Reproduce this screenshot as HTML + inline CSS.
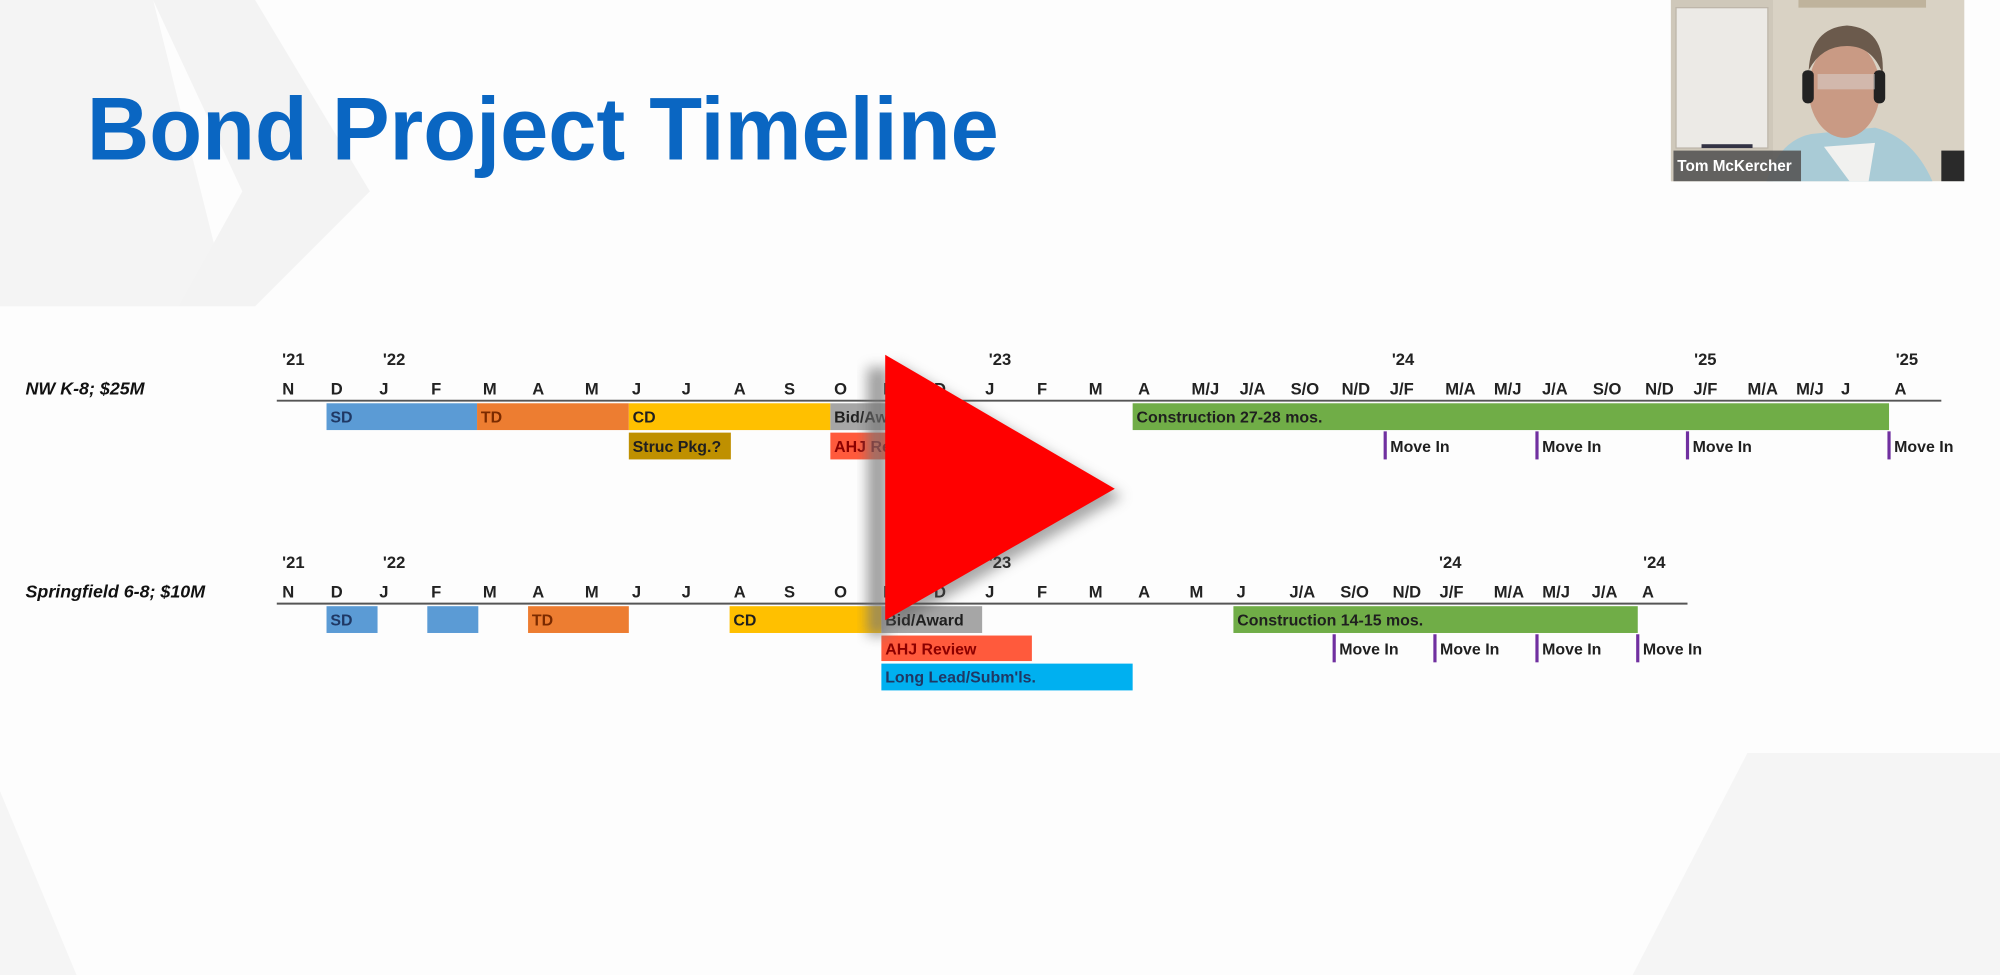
<!DOCTYPE html>
<html><head><meta charset="utf-8"><style>
html,body{margin:0;padding:0;background:#fff;}
svg{display:block;}
.m{font-family:"Liberation Sans",sans-serif;font-weight:bold;font-size:13px;fill:#222;text-anchor:middle;}
.b{font-family:"Liberation Sans",sans-serif;font-weight:bold;font-size:12.5px;fill:#1f1f1f;}
.r{font-family:"Liberation Sans",sans-serif;font-weight:bold;font-style:italic;font-size:14px;fill:#111;}
</style></head><body>
<svg width="2000" height="975" viewBox="0 0 1568 764" preserveAspectRatio="none" xmlns="http://www.w3.org/2000/svg">
<defs><filter id="bl" x="-50%" y="-50%" width="200%" height="200%"><feGaussianBlur stdDeviation="5"/></filter></defs>
<rect width="1568" height="764" fill="#fdfdfd"/>
<!-- faint background shapes -->
<polygon points="0,0 120,0 180,240 0,240" fill="#f4f4f4"/>
<polygon points="120,0 200,0 290,150 200,240 140,240 190,150" fill="#f3f3f3"/>
<polygon points="1370,590 1568,590 1568,764 1280,764" fill="#f5f5f5"/>
<polygon points="0,620 60,764 0,764" fill="#f5f5f5"/>
<!-- title -->
<text x="68" y="125" font-family="Liberation Sans, sans-serif" font-weight="bold" font-size="70" fill="#0a66c2" textLength="715" lengthAdjust="spacingAndGlyphs">Bond Project Timeline</text>

<!-- Row 1 -->
<text class="r" x="20" y="309">NW K-8; $25M</text>
<g class="m">
<text x="230" y="286">'21</text><text x="309" y="286">'22</text><text x="784" y="286">'23</text><text x="1100" y="286">'24</text><text x="1337" y="286">'25</text><text x="1495" y="286">'25</text>
<text x="226" y="309">N</text><text x="264" y="309">D</text><text x="301" y="309">J</text><text x="342" y="309">F</text><text x="384" y="309">M</text><text x="422" y="309">A</text><text x="464" y="309">M</text><text x="499" y="309">J</text><text x="538" y="309">J</text><text x="580" y="309">A</text><text x="619" y="309">S</text><text x="659" y="309">O</text><text x="697" y="309">N</text><text x="737" y="309">D</text><text x="776" y="309">J</text><text x="817" y="309">F</text><text x="859" y="309">M</text><text x="897" y="309">A</text><text x="945" y="309">M/J</text><text x="982" y="309">J/A</text><text x="1023" y="309">S/O</text><text x="1063" y="309">N/D</text><text x="1099" y="309">J/F</text><text x="1145" y="309">M/A</text><text x="1182" y="309">M/J</text><text x="1219" y="309">J/A</text><text x="1260" y="309">S/O</text><text x="1301" y="309">N/D</text><text x="1337" y="309">J/F</text><text x="1382" y="309">M/A</text><text x="1419" y="309">M/J</text><text x="1447" y="309">J</text><text x="1490" y="309">A</text>
</g>
<line x1="217" y1="314" x2="1522" y2="314" stroke="#555" stroke-width="1.5"/>
<rect x="256" y="316" width="118" height="21" fill="#5b9bd5"/>
<rect x="374" y="316" width="119" height="21" fill="#ed7d31"/>
<rect x="493" y="316" width="158" height="21" fill="#ffc000"/>
<rect x="651" y="316" width="79" height="21" fill="#a6a6a6"/>
<rect x="888" y="316" width="593" height="21" fill="#70ad47"/>
<rect x="493" y="339" width="80" height="21" fill="#bf9000"/>
<rect x="651" y="339" width="79" height="21" fill="#ff5a3c"/>
<g class="b">
<text x="259" y="331" fill="#1f3864">SD</text><text x="377" y="331" fill="#7a2a00">TD</text><text x="496" y="331">CD</text><text x="654" y="331">Bid/Award</text><text x="891" y="331">Construction 27-28 mos.</text>
<text x="496" y="354">Struc Pkg.?</text><text x="654" y="354" fill="#8b0000">AHJ Review</text>
<text x="1090" y="354">Move In</text><text x="1209" y="354">Move In</text><text x="1327" y="354">Move In</text><text x="1485" y="354">Move In</text>
</g>
<g stroke="#7030a0" stroke-width="2.5">
<line x1="1086" y1="338" x2="1086" y2="360"/><line x1="1205" y1="338" x2="1205" y2="360"/><line x1="1323" y1="338" x2="1323" y2="360"/><line x1="1481" y1="338" x2="1481" y2="360"/>
</g>

<!-- Row 2 -->
<text class="r" x="20" y="468">Springfield 6-8; $10M</text>
<g class="m">
<text x="230" y="445">'21</text><text x="309" y="445">'22</text><text x="784" y="445">'23</text><text x="1137" y="445">'24</text><text x="1297" y="445">'24</text>
<text x="226" y="468">N</text><text x="264" y="468">D</text><text x="301" y="468">J</text><text x="342" y="468">F</text><text x="384" y="468">M</text><text x="422" y="468">A</text><text x="464" y="468">M</text><text x="499" y="468">J</text><text x="538" y="468">J</text><text x="580" y="468">A</text><text x="619" y="468">S</text><text x="659" y="468">O</text><text x="697" y="468">N</text><text x="737" y="468">D</text><text x="776" y="468">J</text><text x="817" y="468">F</text><text x="859" y="468">M</text><text x="897" y="468">A</text><text x="938" y="468">M</text><text x="973" y="468">J</text><text x="1021" y="468">J/A</text><text x="1062" y="468">S/O</text><text x="1103" y="468">N/D</text><text x="1138" y="468">J/F</text><text x="1183" y="468">M/A</text><text x="1220" y="468">M/J</text><text x="1258" y="468">J/A</text><text x="1292" y="468">A</text>
</g>
<line x1="217" y1="473" x2="1323" y2="473" stroke="#555" stroke-width="1.5"/>
<rect x="256" y="475" width="40" height="21" fill="#5b9bd5"/>
<rect x="335" y="475" width="40" height="21" fill="#5b9bd5"/>
<rect x="414" y="475" width="79" height="21" fill="#ed7d31"/>
<rect x="572" y="475" width="119" height="21" fill="#ffc000"/>
<rect x="691" y="475" width="79" height="21" fill="#a6a6a6"/>
<rect x="967" y="475" width="317" height="21" fill="#70ad47"/>
<rect x="691" y="498" width="118" height="20" fill="#ff5a3c"/>
<rect x="691" y="520" width="197" height="21" fill="#00b0f0"/>
<g class="b">
<text x="259" y="490" fill="#1f3864">SD</text><text x="417" y="490" fill="#7a2a00">TD</text><text x="575" y="490">CD</text><text x="694" y="490">Bid/Award</text><text x="970" y="490">Construction 14-15 mos.</text>
<text x="694" y="513" fill="#8b0000">AHJ Review</text><text x="694" y="535" fill="#1f3864">Long Lead/Subm'ls.</text>
<text x="1050" y="513">Move In</text><text x="1129" y="513">Move In</text><text x="1209" y="513">Move In</text><text x="1288" y="513">Move In</text>
</g>
<g stroke="#7030a0" stroke-width="2.5">
<line x1="1046" y1="497" x2="1046" y2="519"/><line x1="1125" y1="497" x2="1125" y2="519"/><line x1="1205" y1="497" x2="1205" y2="519"/><line x1="1284" y1="497" x2="1284" y2="519"/>
</g>

<!-- play button -->
<rect x="680" y="288" width="16" height="210" fill="#777" opacity="0.7" filter="url(#bl)"/>
<polygon points="700,284 700,492 880,389" fill="#555" opacity="0.5" filter="url(#bl)"/>
<polygon points="694,278 694,486 874,383" fill="#ff0000"/>

<!-- webcam -->
<rect x="1310" y="0" width="230" height="142" fill="#d9d2c4"/>
<rect x="1310" y="0" width="80" height="142" fill="#cfc8ba"/>
<rect x="1314" y="6" width="72" height="110" fill="#eceae6" stroke="#bdb6aa" stroke-width="1"/>
<rect x="1334" y="113" width="40" height="3" fill="#334"/>
<rect x="1410" y="0" width="100" height="6" fill="#bfb39c"/>
<path d="M1385,142 Q1395,110 1420,105 L1470,100 Q1500,108 1515,142 Z" fill="#a9cbd6"/>
<path d="M1430,115 L1450,142 L1465,142 L1470,112 Z" fill="#f1f1ef"/>
<ellipse cx="1446" cy="70" rx="28" ry="38" fill="#c99a84"/>
<path d="M1418,55 Q1420,22 1448,20 Q1478,22 1476,58 Q1468,36 1448,36 Q1428,36 1418,55 Z" fill="#6b5a4c"/>
<rect x="1413" y="55" width="9" height="26" rx="4" fill="#222"/>
<rect x="1469" y="55" width="9" height="26" rx="4" fill="#222"/>
<rect x="1425" y="58" width="45" height="12" fill="#ddd" opacity="0.45"/>
<rect x="1522" y="118" width="18" height="24" fill="#2a2a2a"/>
<rect x="1312" y="118" width="100" height="24" fill="#555" opacity="0.9"/>
<text x="1315" y="134" font-family="Liberation Sans, sans-serif" font-weight="bold" font-size="12" fill="#fff">Tom McKercher</text>
</svg>
</body></html>
